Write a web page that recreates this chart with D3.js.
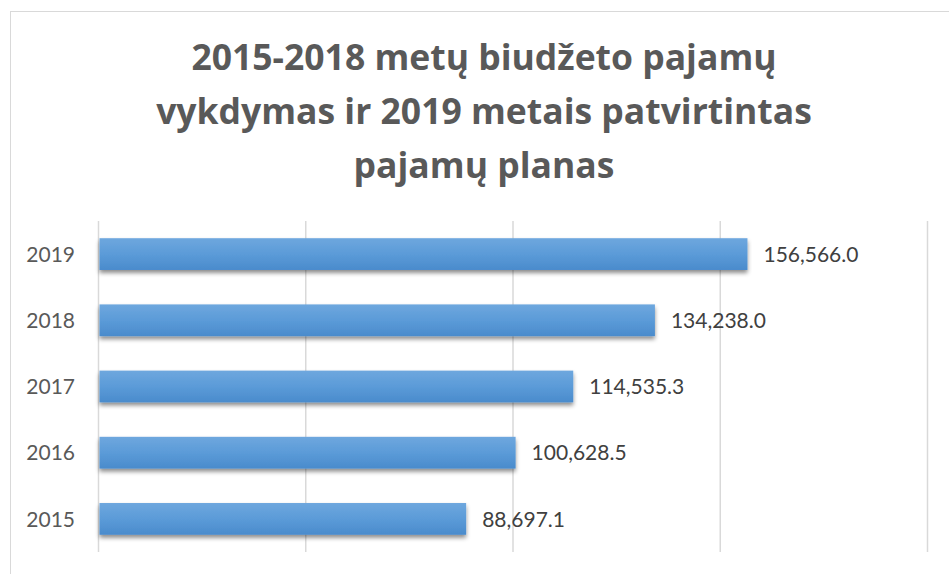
<!DOCTYPE html>
<html>
<head>
<meta charset="utf-8">
<script src="https://cdn.jsdelivr.net/npm/d3@7"></script>
<style>
  html, body { margin: 0; padding: 0; background: #fff; }
  svg { display: block; }
  text { font-family: Lato, "Open Sans", sans-serif; }
</style>
</head>
<body>
<svg id="chart" width="949" height="574"></svg>
<script>
// ---- data ----
const titleLines = ["2015-2018 metų biudžeto pajamų", "vykdymas ir 2019 metais patvirtintas", "pajamų planas"];
const years = ["2019", "2018", "2017", "2016", "2015"];
const values = [156566.0, 134238.0, 114535.3, 100628.5, 88697.1];
const gridTicks = [0, 50000, 100000, 150000, 200000];

const svg = d3.select("#chart");

// defs: gradient + shadow
const defs = svg.append("defs");
const grad = defs.append("linearGradient").attr("id", "barGrad")
  .attr("x1", 0).attr("y1", 0).attr("x2", 0).attr("y2", 1);
grad.append("stop").attr("offset", "0%").attr("stop-color", "#6ea7de");
grad.append("stop").attr("offset", "50%").attr("stop-color", "#5b9bd8");
grad.append("stop").attr("offset", "100%").attr("stop-color", "#4a8bcc");
const f = defs.append("filter").attr("id", "shadow")
  .attr("x", "-5%").attr("y", "-30%").attr("width", "110%").attr("height", "180%");
f.append("feDropShadow").attr("dx", 0).attr("dy", 3).attr("stdDeviation", 2.2)
  .attr("flood-color", "#000").attr("flood-opacity", 0.45);

// chart border
svg.append("rect").attr("x", 10.5).attr("y", 11.5).attr("width", 960).attr("height", 600)
  .attr("fill", "none").attr("stroke", "#d9d9d9").attr("stroke-width", 1);

// title
svg.append("text")
  .attr("x", 484).attr("y", 70)
  .attr("text-anchor", "middle")
  .attr("fill", "#595959")
  .attr("font-weight", "bold")
  .attr("font-size", 35.5)
  .style("font-family", "'Open Sans', sans-serif")
  .selectAll("tspan").data(titleLines).join("tspan")
  .attr("x", 484)
  .attr("dy", (d, i) => i === 0 ? 0 : 54)
  .text(d => d);

// scales
const x = d3.scaleLinear().domain([0, 200000]).range([98.5, 927.5]);
const y = d3.scaleBand().domain(years).range([221, 552]).paddingInner(0.52).paddingOuter(0.26);

// gridlines
svg.append("g").selectAll("line").data(gridTicks).join("line")
  .attr("x1", d => x(d)).attr("x2", d => x(d))
  .attr("y1", 221).attr("y2", 552)
  .attr("stroke", "#d9d9d9").attr("stroke-width", 1.5);

// bars
svg.append("g").selectAll("rect").data(values).join("rect")
  .attr("x", x(0) + 1)
  .attr("y", (d, i) => y(years[i]))
  .attr("width", d => x(d) - x(0) - 1)
  .attr("height", y.bandwidth())
  .attr("fill", "url(#barGrad)")
  .attr("filter", "url(#shadow)");

// y-axis labels
svg.append("g").selectAll("text").data(years).join("text")
  .attr("x", 75)
  .attr("y", d => y(d) + y.bandwidth() / 2)
  .attr("dy", "0.37em")
  .attr("text-anchor", "end")
  .attr("fill", "#595959")
  .attr("font-size", 21)
  .text(d => d);

// value labels
const fmt = d3.format(",.1f");
svg.append("g").selectAll("text").data(values).join("text")
  .attr("x", d => x(d) + 16)
  .attr("y", (d, i) => y(years[i]) + y.bandwidth() / 2)
  .attr("dy", "0.37em")
  .attr("fill", "#404040")
  .attr("font-size", 21)
  .text(d => fmt(d));
</script>
</body>
</html>
